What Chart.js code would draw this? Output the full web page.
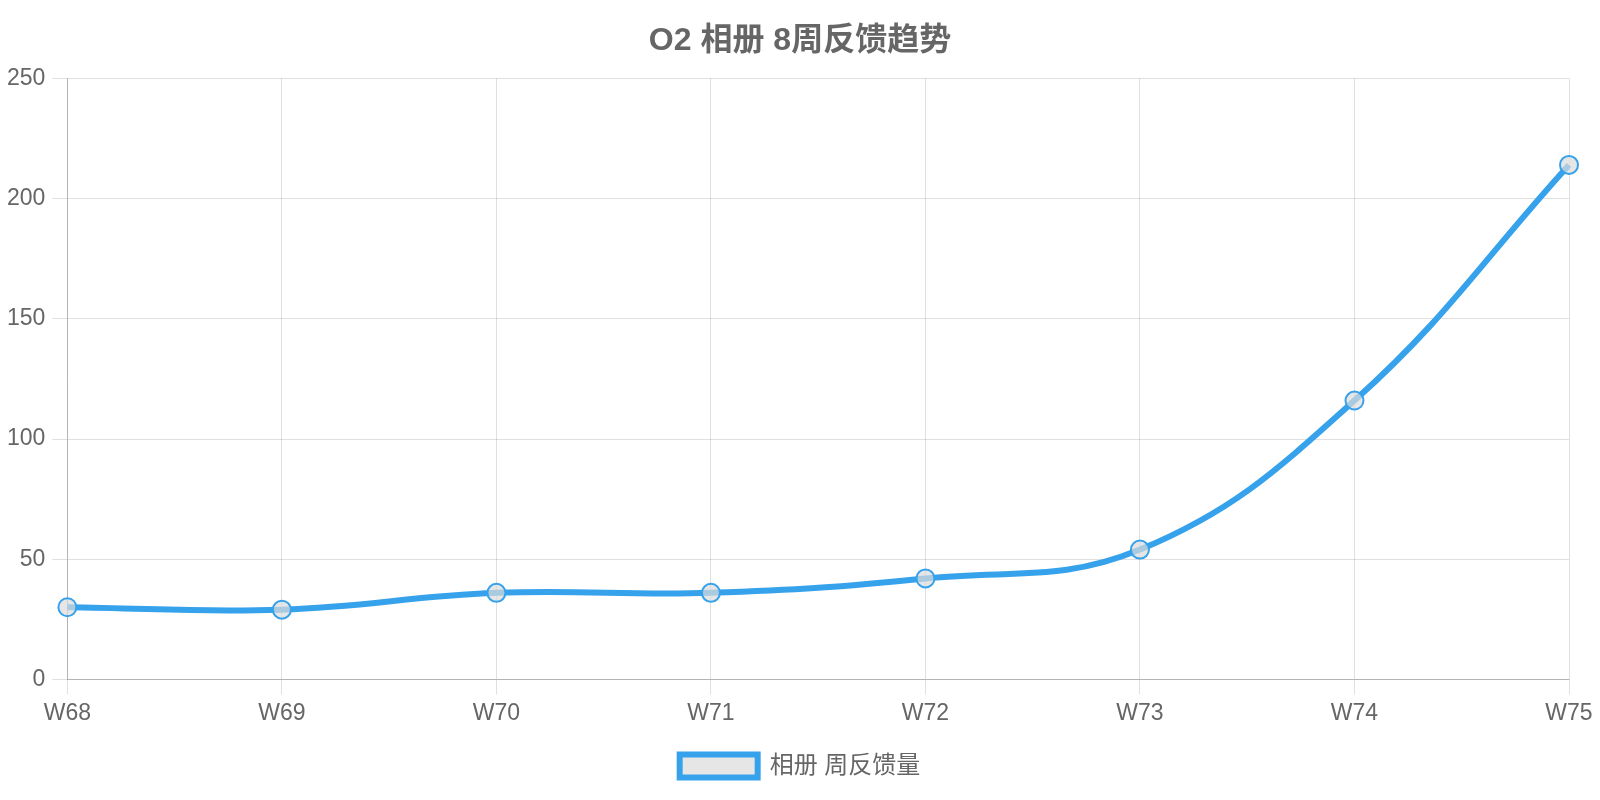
<!DOCTYPE html>
<html>
<head>
<meta charset="utf-8">
<script src="https://cdn.jsdelivr.net/npm/chart.js@4"></script>
<style>
    html, body { margin: 0; padding: 0; background: #fff; }
    #wrap { width: 1600px; height: 800px; }
</style>
</head>
<body>
<div id="wrap"><canvas id="chart"></canvas></div>
<script>
const weeks = ['W68', 'W69', 'W70', 'W71', 'W72', 'W73', 'W74', 'W75'];
const feedbackCounts = [30, 29, 36, 36, 42, 54, 116, 214];
const seriesLabel = '相册 周反馈量';
const chartTitle = 'O2 相册 8周反馈趋势';

Chart.defaults.font.family = '"Liberation Sans", Arial, "Noto Sans CJK SC", sans-serif';
Chart.defaults.color = '#666';

new Chart(document.getElementById('chart'), {
    type: 'line',
    data: {
        labels: weeks,
        datasets: [{
            label: seriesLabel,
            data: feedbackCounts,
            borderColor: '#36a2eb',
            backgroundColor: 'rgba(220, 220, 220, 0.7)',
            borderWidth: 6,
            tension: 0.4,
            fill: false,
            pointRadius: 9,
            pointBorderWidth: 2,
            pointBorderColor: '#36a2eb',
            pointBackgroundColor: 'rgba(220, 220, 220, 0.7)'
        }]
    },
    options: {
        responsive: true,
        maintainAspectRatio: false,
        animation: false,
        devicePixelRatio: 1,
        layout: {
            padding: { left: 0, right: 0, top: 0, bottom: 12 }
        },
        plugins: {
            title: {
                display: true,
                text: chartTitle,
                font: { size: 32, weight: 'bold' },
                padding: { top: 22, bottom: 18 }
            },
            legend: {
                position: 'bottom',
                labels: {
                    boxWidth: 78,
                    boxHeight: 23,
                    font: { size: 24 },
                    padding: 22
                }
            }
        },
        scales: {
            y: {
                min: 0,
                max: 250,
                ticks: {
                    stepSize: 50,
                    padding: 7,
                    font: { size: 23 }
                },
                grid: { color: 'rgba(0, 0, 0, 0.12)', tickLength: 15 },
                border: { color: 'rgba(0, 0, 0, 0.2)' }
            },
            x: {
                ticks: { padding: 5, font: { size: 23 } },
                grid: { color: 'rgba(0, 0, 0, 0.12)', tickLength: 15 },
                border: { color: 'rgba(0, 0, 0, 0.2)' },
                // leave a little room past the last label, like the original
                afterFit: (scale) => {
                    scale.paddingRight = 31;
                }
            }
        }
    }
});
</script>
</body>
</html>
